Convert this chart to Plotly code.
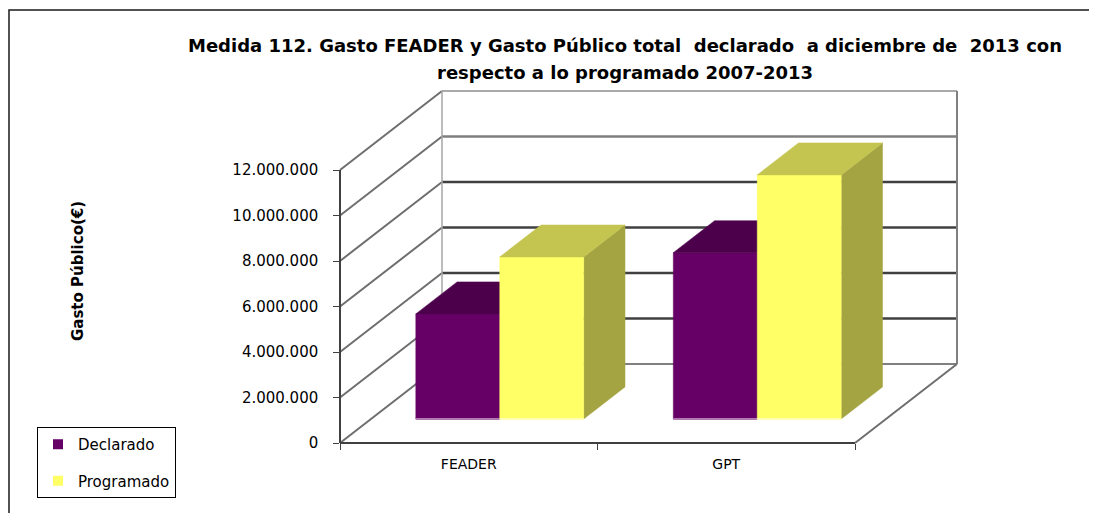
import plotly.graph_objects as go

# ---------------- data ----------------
categories = ["FEADER", "GPT"]
series_names = ["Declarado", "Programado"]
declarado = [4620000, 7310000]
programado = [7120000, 10730000]
y_tick_values = [0, 2000000, 4000000, 6000000, 8000000, 10000000, 12000000]
y_tick_labels = ["0", "2.000.000", "4.000.000", "6.000.000", "8.000.000",
                 "10.000.000", "12.000.000"]
title_line1 = "Medida 112. Gasto FEADER y Gasto Público total  declarado  a diciembre de  2013 con"
title_line2 = "respecto a lo programado 2007-2013"
y_title = "Gasto Público(€)"

# ---------------- styling / geometry ----------------
FONT = "DejaVu Sans"
W, H = 1097, 513
PAGE = 8                         # default page margin around the figure
PL, PR, PT, PB = 332, 961, 88, 447   # plot area on screen (px)
ML = PL - PAGE
MT = PT - PAGE
plot_w = PR - PL
plot_h = PB - PT
MR = W - ML - plot_w
MB = H - MT - plot_h

PX_X = 257.5          # pixels per category unit
PX_Y = 22.75e-6       # pixels per value unit
X_FRONT_PX = 340      # screen column of the front-left corner
Y_FRONT_PX = 443      # screen row of the value 0 at the front
DEPTH_X = 102 / PX_X  # floor depth offset (x units)
DEPTH_Y = 79 / PX_Y   # floor depth offset (value units)
Z0, Z1 = 0.304, 0.709  # bar front / back depth fractions
BAR_W = 0.326
VMAX = y_tick_values[-1]
N = len(categories)

front_colors = ["#660066", "#ffff66"]
top_colors = ["#4c004c", "#c4c450"]
side_colors = ["#520052", "#a4a442"]
base_colors = ["#b07ab0", "#ffffb8"]

xa = -(X_FRONT_PX - PL) / PX_X
xb = xa + plot_w / PX_X
ya = -(PB - Y_FRONT_PX) / PX_Y
yb = ya + plot_h / PX_Y


def px_x(px):
    return (px - PL) / plot_w


def px_y(py):
    return (PB - py) / plot_h


def proj(x, v, z):
    return x + z * DEPTH_X, v + z * DEPTH_Y


fig = go.Figure()


def line(p, q, color, width):
    fig.add_trace(go.Scatter(x=[p[0], q[0]], y=[p[1], q[1]], mode="lines",
                             line=dict(color=color, width=width),
                             hoverinfo="skip", showlegend=False))


def poly(pts, color):
    xs = [p[0] for p in pts] + [pts[0][0]]
    ys = [p[1] for p in pts] + [pts[0][1]]
    fig.add_trace(go.Scatter(x=xs, y=ys, mode="lines", fill="toself",
                             fillcolor=color, line=dict(color=color, width=0.5),
                             hoverinfo="skip", showlegend=False))


# ---- walls ----
grid_style = {0: ("#808080", 2), VMAX: ("#8c8c8c", 1.5), 10000000: ("#7f7f7f", 2.5)}
for v in y_tick_values:
    c, w = grid_style.get(v, ("#404040", 2.5))
    line(proj(N, v, 1), proj(0, v, 1), c, w)
for v in y_tick_values:
    line(proj(0, v, 0), proj(0, v, 1), "#6e6e6e", 2)
line(proj(0, 0, 1), proj(0, VMAX, 1), "#a6a6a6", 1.5)
line(proj(N, 0, 1), proj(N, VMAX, 1), "#808080", 2)
line(proj(N, 0, 0), proj(N, 0, 1), "#6e6e6e", 2)

# ---- bars ----
series_values = [declarado, programado]
for i in range(N):
    c = i + 0.5
    for s, vals in enumerate(series_values):
        v = vals[i]
        xl = c - BAR_W + s * BAR_W
        xr = xl + BAR_W
        poly([proj(xr, 0, Z0), proj(xr, 0, Z1), proj(xr, v, Z1), proj(xr, v, Z0)],
             side_colors[s])
        poly([proj(xl, 0, Z0), proj(xr, 0, Z0), proj(xr, v, Z0), proj(xl, v, Z0)],
             front_colors[s])
        poly([proj(xl, v, Z0), proj(xr, v, Z0), proj(xr, v, Z1), proj(xl, v, Z1)],
             top_colors[s])
        line(proj(xl, 0, Z0), proj(xr, 0, Z0), base_colors[s], 2)

# ---- legend entries ----
for s, name in enumerate(series_names):
    fig.add_trace(go.Scatter(x=[None], y=[None], mode="markers", name=name,
                             legendgroup=name,
                             marker=dict(symbol="square", size=10,
                                         color=front_colors[s])))

# anchor trace for the visible value / category axes
fig.add_trace(go.Scatter(x=[None], y=[None], xaxis="x2", yaxis="y2",
                         showlegend=False, hoverinfo="skip"))

fig.update_layout(
    width=W, height=H,
    margin=dict(l=ML, r=MR, t=MT, b=MB, autoexpand=False),
    paper_bgcolor="white", plot_bgcolor="rgba(0,0,0,0)",
    font=dict(family=FONT, color="black", size=15),
    xaxis=dict(range=[xa, xb], visible=False, fixedrange=True),
    yaxis=dict(range=[ya, yb], visible=False, fixedrange=True),
    xaxis2=dict(domain=[px_x(X_FRONT_PX), px_x(X_FRONT_PX + N * PX_X)],
                range=[0, N], anchor="free", position=px_y(Y_FRONT_PX),
                showline=True, linecolor="#404040", linewidth=2,
                tickmode="array", tickvals=[i + 0.5 for i in range(N)],
                ticktext=categories, ticks="", ticklabelstandoff=8,
                minor=dict(tickmode="array", tickvals=list(range(N + 1)),
                           ticks="outside", ticklen=6, tickcolor="#404040",
                           tickwidth=1, showgrid=False),
                showgrid=False, zeroline=False, fixedrange=True,
                tickfont=dict(size=14, family=FONT)),
    yaxis2=dict(domain=[px_y(Y_FRONT_PX), px_y(Y_FRONT_PX - VMAX * PX_Y)],
                range=[0, VMAX], anchor="free", position=px_x(X_FRONT_PX),
                showline=True, linecolor="#404040", linewidth=1.5,
                tickmode="array", tickvals=y_tick_values, ticktext=y_tick_labels,
                ticks="outside", ticklen=6, tickcolor="#404040",
                ticklabelstandoff=12,
                showgrid=False, zeroline=False, fixedrange=True,
                tickfont=dict(size=15, family=FONT)),
    legend=dict(xref="container", yref="container",
                x=(37 - PAGE) / W, y=1 - (427 - PAGE) / H,
                xanchor="left", yanchor="top",
                bordercolor="black", borderwidth=1, bgcolor="white",
                font=dict(size=15, family=FONT), tracegroupgap=14,
                traceorder="grouped", itemwidth=30),
    showlegend=True,
)

fig.add_annotation(text="<b>" + title_line1 + "</b>", xref="paper", yref="paper",
                   x=px_x(625), y=px_y(45), showarrow=False,
                   xanchor="center", yanchor="middle",
                   font=dict(size=18, family=FONT))
fig.add_annotation(text="<b>" + title_line2 + "</b>", xref="paper", yref="paper",
                   x=px_x(625), y=px_y(72), showarrow=False,
                   xanchor="center", yanchor="middle",
                   font=dict(size=18, family=FONT))
fig.add_annotation(text="<b>" + y_title + "</b>", xref="paper", yref="paper",
                   x=px_x(78), y=px_y(271), showarrow=False, textangle=-90,
                   xanchor="center", yanchor="middle",
                   font=dict(size=15, family=FONT))

fig.add_shape(type="rect", xref="paper", yref="paper",
              x0=px_x(PAGE + 1), y0=px_y(530), x1=px_x(1110), y1=px_y(10),
              line=dict(color="#1a1a1a", width=1.5), fillcolor="rgba(0,0,0,0)",
              layer="above")

fig.write_html("out.html")
